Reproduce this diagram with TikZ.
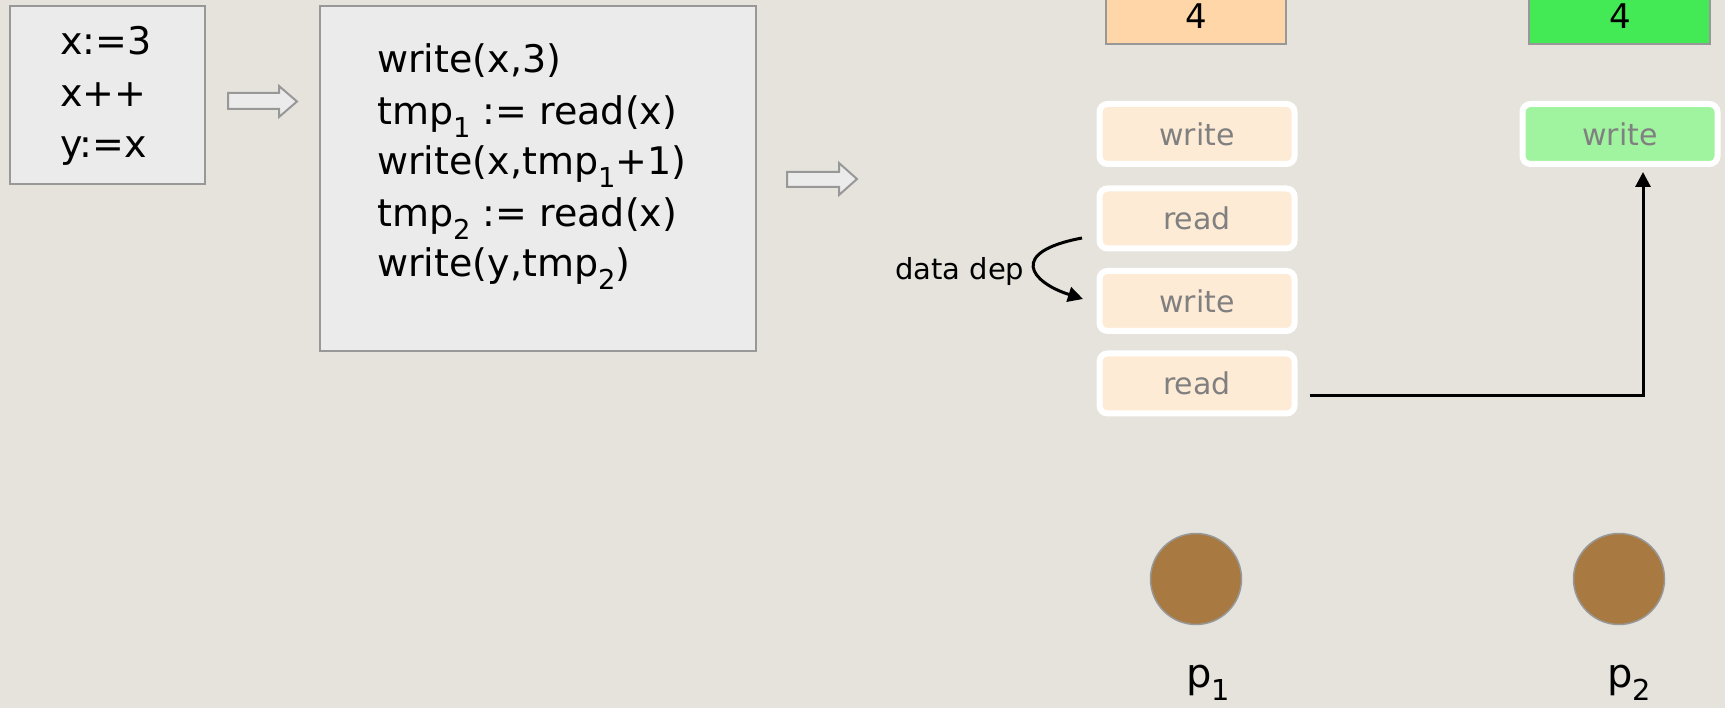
\documentclass[tikz,border=0pt]{standalone}
\usepackage{fontspec}
\usepackage{graphicx}
\setmainfont{DejaVu Sans}
\usetikzlibrary{arrows.meta,shapes.geometric}
\definecolor{bg}{HTML}{E5E3DC}
\definecolor{boxfill}{HTML}{EBEBEB}
\definecolor{boxline}{HTML}{989898}
\definecolor{peach}{HTML}{FFD6A8}
\definecolor{lightpeach}{HTML}{FEEBD6}
\definecolor{green4}{HTML}{44EA55}
\definecolor{lightgreen}{HTML}{A0F4A0}
\definecolor{graytext}{HTML}{808080}
\definecolor{brown}{HTML}{A87941}
\newcommand\mysub[1]{\raisebox{-0.33em}{\scalebox{0.72}{#1}}}
\begin{document}
\begin{tikzpicture}[x=1pt,y=-1pt,
  codebox/.style={draw=boxline, line width=2pt, fill=boxfill, inner sep=0pt, outer sep=0pt},
  codetext/.style={anchor=base west, inner sep=0pt, font=\fontsize{38}{45}\selectfont},
  valbox/.style={draw=boxline, line width=2pt, inner sep=0pt, outer sep=0pt, minimum height=63pt},
  valtext/.style={anchor=base, inner sep=0pt, font=\fontsize{34}{40}\selectfont},
  opbox/.style={draw=white, line width=6pt, rounded corners=8pt, fill=lightpeach, inner sep=0pt, outer sep=0pt,
    minimum width=195pt, minimum height=60pt, text=graytext, font=\fontsize{30}{36}\selectfont},
  blockarrow/.style={draw=boxline, line width=2pt, fill=boxfill, line join=miter},
  arr/.style={line width=3pt, -{Triangle[length=15pt,width=15pt]}},
  proc/.style={circle, draw=boxline, line width=1.5pt, fill=brown, minimum size=91pt, inner sep=0pt},
  plabel/.style={anchor=base west, inner sep=0pt, font=\fontsize{40}{48}\selectfont}
]
\useasboundingbox (0,0) rectangle (1725,708);
\fill[bg] (0,0) rectangle (1725,708);

% source code box
\node[codebox, minimum width=195pt, minimum height=178pt] (src) at (107.5,95) {};
\node[codetext] (s1) at (60,55) {x:=3};
\node[codetext] (s2) at (60,107) {x++};
\node[codetext] (s3) at (60,158) {y:=x};

% block arrow 1
\draw[blockarrow] (228,93) -- (279,93) -- (279,86) -- (297,101.5) -- (279,117) -- (279,109) -- (228,109) -- cycle;

% translated code box
\node[codebox, minimum width=436pt, minimum height=345pt] (tr) at (538,178.5) {};
\node[codetext] (t1) at (377,73) {write(x,3)};
\node[codetext] (t2) at (377,125) {tmp\mysub{1} := read(x)};
\node[codetext] (t3) at (377,175) {write(x,tmp\mysub{1}+1)};
\node[codetext] (t4) at (377,227) {tmp\mysub{2} := read(x)};
\node[codetext] (t5) at (377,277) {write(y,tmp\mysub{2})};

% block arrow 2
\draw[blockarrow] (787,172) -- (839,172) -- (839,163) -- (857,179) -- (839,195) -- (839,187) -- (787,187) -- cycle;

% value boxes
\node[valbox, fill=peach, minimum width=180pt] (v1) at (1196,12.5) {};
\node[valtext] (v1t) at (1196,29) {4};
\node[valbox, fill=green4, minimum width=181pt] (v2) at (1619.5,12.5) {};
\node[valtext] (v2t) at (1620,29) {4};

% operations of p1
\node[opbox] (o1) at (1197,134) {write};
\node[opbox] (o2) at (1197,218.5) {read};
\node[opbox] (o3) at (1197,301) {write};
\node[opbox] (o4) at (1197,383.5) {read};
% operation of p2
\node[opbox, fill=lightgreen] (o5) at (1620,134) {write};

% data dependency
\node[anchor=base west, inner sep=0pt, font=\fontsize{29}{34}\selectfont] (dd) at (895,280) {data dep};
\coordinate (ddA) at (1082,238);
\coordinate (ddB) at (1083,299);
\draw[arr] (ddA) .. controls (1008,252) and (1030,282) .. (ddB);

% read -> write connector
\draw[arr] ([xshift=15.5pt,yshift=-12.5pt]o4.east) -| ([xshift=23pt,yshift=-8pt]o5.south);

% processes
\node[proc] (p1) at (1196,579) {};
\node[proc] (p2) at (1619,579) {};
\node[plabel] (p1l) at (1186,687) {p\mysub{1}};
\node[plabel] (p2l) at (1607,687) {p\mysub{2}};
\end{tikzpicture}
\end{document}
